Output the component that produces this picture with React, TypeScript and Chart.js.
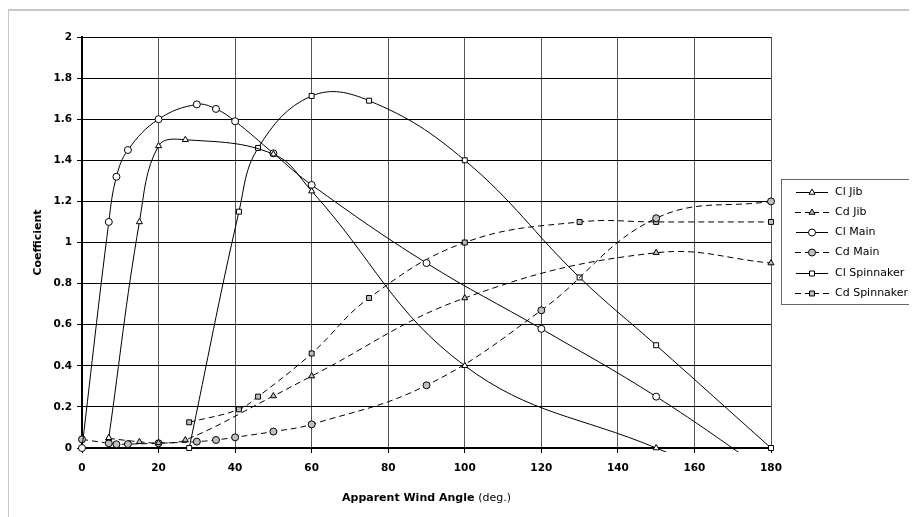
import React, { useEffect, useRef } from 'react';
import { Chart, registerables } from 'chart.js';

Chart.register(...registerables);

const xTickValues = [0, 20, 40, 60, 80, 100, 120, 140, 160, 180];
const xTickLabels = ['0', '20', '40', '60', '80', '100', '120', '140', '160', '180'];
const yTickValues = [0, 0.2, 0.4, 0.6, 0.8, 1, 1.2, 1.4, 1.6, 1.8, 2];
const yTickLabels = ['0', '0.2', '0.4', '0.6', '0.8', '1', '1.2', '1.4', '1.6', '1.8', '2'];

const xTitleBold = 'Apparent Wind Angle ';
const xTitleNormal = '(deg.)';
const yTitle = 'Coefficient';

const clJibX = [7, 15, 20, 27, 50, 60, 100, 150, 180];
const clJibY = [0.05, 1.1, 1.47, 1.5, 1.43, 1.25, 0.4, 0, -0.22];
const cdJibX = [7, 15, 20, 27, 50, 60, 100, 150, 180];
const cdJibY = [0.047, 0.03, 0.025, 0.039, 0.253, 0.35, 0.73, 0.95, 0.9];
const clMainX = [0, 7, 9, 12, 20, 30, 35, 40, 50, 60, 90, 120, 150, 180];
const clMainY = [0, 1.1, 1.32, 1.45, 1.6, 1.672, 1.65, 1.59, 1.434, 1.28, 0.9, 0.58, 0.25, -0.13];
const cdMainX = [0, 7, 9, 12, 20, 30, 35, 40, 50, 60, 90, 120, 150, 180];
const cdMainY = [0.042, 0.023, 0.018, 0.019, 0.023, 0.031, 0.039, 0.052, 0.08, 0.115, 0.305, 0.67, 1.118, 1.2];
const clSpinX = [28, 41, 46, 60, 75, 100, 130, 150, 180];
const clSpinY = [0, 1.15, 1.46, 1.713, 1.69, 1.4, 0.83, 0.5, 0];
const cdSpinX = [28, 41, 46, 60, 75, 100, 130, 150, 180];
const cdSpinY = [0.125, 0.188, 0.25, 0.46, 0.73, 1.0, 1.1, 1.1, 1.1];

const seriesLabels = ['Cl Jib', 'Cd Jib', 'Cl Main', 'Cd Main', 'Cl Spinnaker', 'Cd Spinnaker'];

const FONT = "'DejaVu Sans', sans-serif";

function drawMarker(ctx: CanvasRenderingContext2D, style: string, x: number, y: number, r: number, fill: string) {
  ctx.save();
  ctx.beginPath();
  if (style === 'circle') {
    ctx.arc(x, y, r, 0, Math.PI * 2);
  } else if (style === 'triangle') {
    ctx.moveTo(x, y - r);
    ctx.lineTo(x + r * 0.866, y + r * 0.5);
    ctx.lineTo(x - r * 0.866, y + r * 0.5);
    ctx.closePath();
  } else {
    const s = r * Math.SQRT1_2;
    ctx.rect(x - s, y - s, 2 * s, 2 * s);
  }
  ctx.setLineDash([]);
  ctx.fillStyle = fill;
  ctx.fill();
  ctx.strokeStyle = '#000';
  ctx.lineWidth = 1;
  ctx.stroke();
  ctx.restore();
}

const overlayPlugin = {
  id: 'overlay',
  afterDraw(chart: any) {
    const ctx: CanvasRenderingContext2D = chart.ctx;
    const area = chart.chartArea;
    // y title
    ctx.save();
    ctx.font = `bold 11px ${FONT}`;
    ctx.fillStyle = '#000';
    ctx.translate(30, (area.top + area.bottom) / 2);
    ctx.rotate(-Math.PI / 2);
    ctx.textAlign = 'center';
    ctx.textBaseline = 'middle';
    ctx.fillText(yTitle, 0, 0);
    ctx.restore();
    // x title
    ctx.save();
    ctx.fillStyle = '#000';
    ctx.textBaseline = 'middle';
    ctx.font = `bold 11px ${FONT}`;
    const w1 = ctx.measureText(xTitleBold).width;
    ctx.font = `11px ${FONT}`;
    const w2 = ctx.measureText(xTitleNormal).width;
    const cx = (area.left + area.right) / 2;
    const x0 = cx - (w1 + w2) / 2;
    const ty = 490;
    ctx.font = `bold 11px ${FONT}`;
    ctx.textAlign = 'left';
    ctx.fillText(xTitleBold, x0, ty);
    ctx.font = `11px ${FONT}`;
    ctx.fillText(xTitleNormal, x0 + w1, ty);
    ctx.restore();
    // legend
    ctx.save();
    const bx = 773.5, by = 171.5, bw = 134, bh = 125;
    ctx.fillStyle = '#fff';
    ctx.fillRect(bx, by, bw, bh);
    ctx.strokeStyle = '#666';
    ctx.lineWidth = 1;
    ctx.strokeRect(bx, by, bw, bh);
    chart.data.datasets.forEach((ds: any, i: number) => {
      const y = Math.round(183.5 + i * 20.3) + 0.5;
      ctx.strokeStyle = '#000';
      ctx.lineWidth = 1;
      ctx.beginPath();
      if (ds.borderDash && ds.borderDash.length) {
        ctx.moveTo(787, y); ctx.lineTo(793, y);
        ctx.moveTo(797, y); ctx.lineTo(811, y);
        ctx.moveTo(815, y); ctx.lineTo(821, y);
      } else {
        ctx.moveTo(788, y); ctx.lineTo(820, y);
      }
      ctx.stroke();
      drawMarker(ctx, ds.pointStyle, 804, y, 3.5, ds.pointBackgroundColor);
      ctx.fillStyle = '#000';
      ctx.font = `11px ${FONT}`;
      ctx.textAlign = 'left';
      ctx.textBaseline = 'middle';
      ctx.fillText(ds.label, 827, y);
    });
    ctx.restore();
  },
};

export default function App() {
  const ref = useRef<HTMLCanvasElement>(null);
  useEffect(() => {
    const canvas = ref.current;
    if (!canvas) return;
    const mk = (label: string, xs: number[], ys: number[], style: string, cd: boolean) => ({
      label,
      data: xs.map((x, i) => ({ x, y: ys[i] })),
      borderColor: '#000',
      borderWidth: 1,
      borderDash: cd ? [6, 4] : [],
      pointStyle: style,
      pointRadius: 3.5,
      pointHoverRadius: 3.5,
      pointBorderWidth: 1,
      pointBorderColor: '#000',
      pointBackgroundColor: cd ? '#c0c0c0' : '#ffffff',
      tension: 0.4,
      fill: false,
      clip: 4,
    });
    const chart = new Chart(canvas, {
      type: 'line',
      data: {
        datasets: [
          mk(seriesLabels[0], clJibX, clJibY, 'triangle', false),
          mk(seriesLabels[1], cdJibX, cdJibY, 'triangle', true),
          mk(seriesLabels[2], clMainX, clMainY, 'circle', false),
          mk(seriesLabels[3], cdMainX, cdMainY, 'circle', true),
          mk(seriesLabels[4], clSpinX, clSpinY, 'rect', false),
          mk(seriesLabels[5], cdSpinX, cdSpinY, 'rect', true),
        ] as any,
      },
      options: {
        responsive: false,
        animation: false,
        events: [],
        layout: { padding: { left: 0, right: 146, top: 29, bottom: 0 } },
        plugins: { legend: { display: false }, tooltip: { enabled: false } },
        scales: {
          x: {
            type: 'linear',
            min: 0,
            max: 180,
            afterFit: (s: any) => { s.height = 69; },
            afterBuildTicks: (s: any) => { s.ticks = xTickValues.map((v) => ({ value: v })); },
            ticks: {
              callback: (v: any) => xTickLabels[xTickValues.indexOf(Number(v))],
              color: '#000',
              font: { family: FONT, size: 10.5, weight: 'bold' },
              padding: 9,
              maxRotation: 0,
              autoSkip: false,
            },
            grid: { color: '#555', lineWidth: 1, tickLength: 5, tickColor: '#000', drawTicks: true },
            border: { color: '#000', width: 2 },
          },
          y: {
            type: 'linear',
            min: 0,
            max: 2,
            afterFit: (s: any) => { s.width = 74; },
            afterBuildTicks: (s: any) => { s.ticks = yTickValues.map((v) => ({ value: v })); },
            ticks: {
              callback: (v: any) => yTickLabels[yTickValues.indexOf(Number(v))],
              color: '#000',
              font: { family: FONT, size: 10.5, weight: 'bold' },
              padding: 5,
              autoSkip: false,
            },
            grid: { color: '#000', lineWidth: 1, tickLength: 5, tickColor: '#000', drawTicks: true },
            border: { color: '#000', width: 2 },
          },
        },
      } as any,
      plugins: [overlayPlugin],
    });
    return () => chart.destroy();
  }, []);

  return (
    <div style={{ position: 'relative', width: 909, height: 509 }}>
      <div style={{ position: 'absolute', left: -1, top: 1, width: 910, height: 2, background: '#c8c8c8' }} />
      <div style={{ position: 'absolute', left: -1, top: 1, width: 2, height: 508, background: '#c8c8c8' }} />
      <canvas ref={ref} width={909} height={509} style={{ position: 'absolute', left: 0, top: 0 }} />
    </div>
  );
}
